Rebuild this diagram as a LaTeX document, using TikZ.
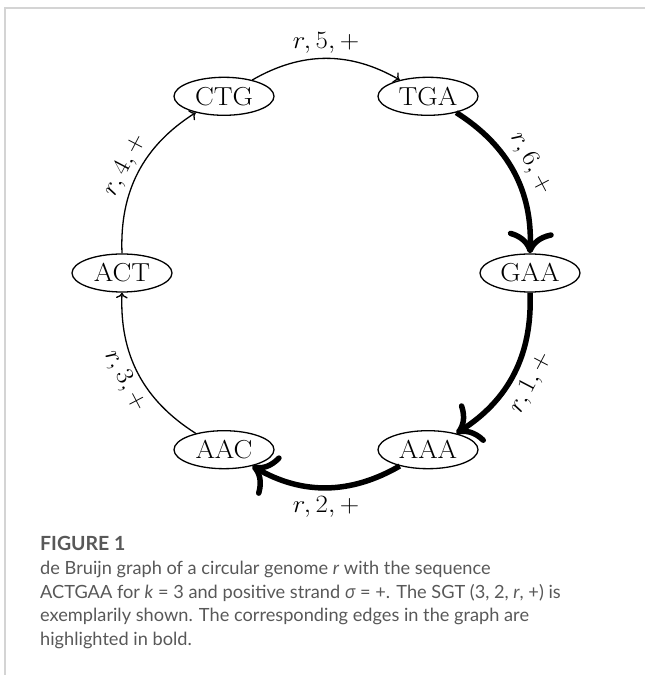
\documentclass[tikz,border=0pt]{standalone}
\usepackage{fontspec}
\usepackage{graphicx}
\usetikzlibrary{shapes.geometric,arrows.meta}
\newfontfamily\capfont{Lato}
\newfontfamily\greekfont{Open Sans}
\definecolor{capgray}{RGB}{88,88,88}
\definecolor{framegray}{RGB}{212,212,212}
\newcommand{\hstr}[1]{\scalebox{1.08}[1]{#1}}
\begin{document}
\begin{tikzpicture}[x=1pt,y=1pt,
  kmer/.style={ellipse,draw,line width=1.3pt,minimum width=100pt,minimum height=38pt,inner sep=0pt,font=\fontsize{26}{30}\selectfont},
  edge/.style={-{To[scale=1.25]},line width=1.3pt,bend left=30},
  boldedge/.style={-{To[scale=1.6]},line width=5.5pt,bend left=30},
  lab/.style={sloped,font=\fontsize{26}{30}\selectfont,inner sep=4pt},
  boldlab/.style={lab,inner sep=6pt},
  captext/.style={anchor=base west,inner sep=0pt,text=capgray,font=\capfont\fontsize{18.2}{22}\selectfont}]
\useasboundingbox (0,0) rectangle (645,675);
\coordinate (f1) at (5,667);
\coordinate (f2) at (645,667);
\coordinate (f3) at (5,0);
\draw[framegray,line width=1.5pt] (f3) -- (f1) -- (f2);

\node[kmer] (GAA) at (530,402) {\hstr{GAA}};
\node[kmer] (TGA) at (428,578.7) {\hstr{TGA}};
\node[kmer] (CTG) at (224,578.7) {\hstr{CTG}};
\node[kmer] (ACT) at (122,402) {\hstr{ACT}};
\node[kmer] (AAC) at (224,225.3) {\hstr{AAC}};
\node[kmer] (AAA) at (428,225.3) {\hstr{AAA}};

\draw[edge] (ACT) to node[lab,above] {\hstr{$r, 4, +$}} (CTG);
\draw[edge] (CTG) to node[lab,above] {\hstr{$r, 5, +$}} (TGA);
\draw[boldedge] (TGA) to node[boldlab,above] {\hstr{$r, 6, +$}} (GAA);
\draw[boldedge] (GAA) to node[boldlab,below] {\hstr{$r, 1, +$}} (AAA);
\draw[boldedge] (AAA) to node[boldlab,below] {\hstr{$r, 2, +$}} (AAC);
\draw[edge] (AAC) to node[lab,below] {\hstr{$r, 3, +$}} (ACT);

\node[captext,font=\capfont\bfseries\fontsize{19.5}{24}\selectfont] (fig) at (40,124) {FIGURE 1};
\node[captext] (c1) at (40,100) {de Bruijn graph of a circular genome \textit{r} with the sequence};
\node[captext] (c2) at (40,76) {ACTGAA for \textit{k} = 3 and positive strand {\greekfont\itshape σ} = +. The SGT (3, 2, \textit{r}, +) is};
\node[captext] (c3) at (40,53) {exemplarily shown. The corresponding edges in the graph are};
\node[captext] (c4) at (40,29) {highlighted in bold.};
\end{tikzpicture}
\end{document}
